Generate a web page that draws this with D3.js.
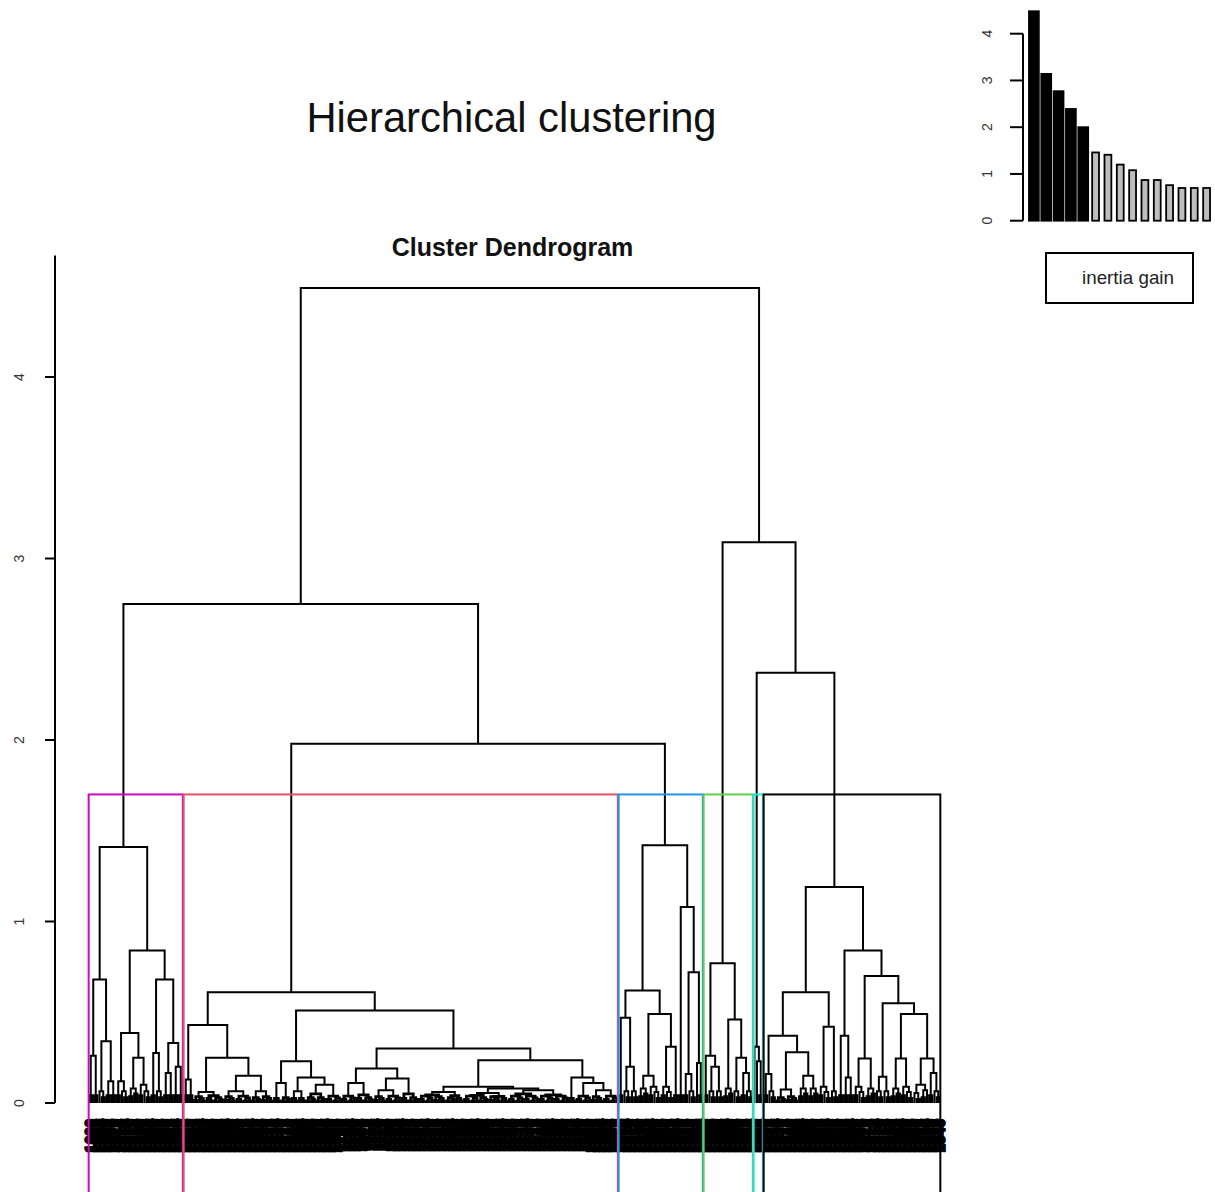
<!DOCTYPE html>
<html><head><meta charset="utf-8">
<script src="https://cdn.jsdelivr.net/npm/d3@7"></script>
<style>body{margin:0;background:#fff}svg{display:block}</style>
</head><body>
<svg id="c" width="1215" height="1192"></svg>
<script>
// ---------------- data ----------------
const inertiaGain = [4.48, 3.14, 2.77, 2.39, 2.00, 1.46, 1.41, 1.20, 1.08, 0.87, 0.87, 0.76, 0.70, 0.70, 0.70];
const inertiaTicks = [0, 1, 2, 3, 4];
const heightTicks = [0, 1, 2, 3, 4];
const cutHeight = 1.70;
const nbClusters = 6;
// upper merges: root, left branch, left-right branch, right branch, right-right branch
const upperMerges = [4.49, 2.75, 1.98, 3.09, 2.37];
// small leaf bundles (merge heights near zero)
const tallTips = {
  t2: [0.04, 1, 1],
  t3: [0.065, 1, [0.03, 1, 1]],
  t4: [0.08, [0.035, 1, 1], [0.05, 1, 1]],
  t5: [0.09, [0.04, 1, 1], [0.06, 1, [0.025, 1, 1]]],
  t6: [0.1, [0.055, 1, [0.02, 1, 1]], [0.07, [0.03, 1, 1], 1]]
};
const flatTips = {
  f2: [0.012, 1, 1],
  f3: [0.025, 1, [0.012, 1, 1]],
  f4: [0.03, [0.012, 1, 1], [0.02, 1, 1]],
  f5: [0.035, [0.015, 1, 1], [0.025, 1, [0.01, 1, 1]]],
  f6: [0.038, [0.02, 1, [0.008, 1, 1]], [0.028, [0.012, 1, 1], 1]]
};
// clusters, each [height, left, right]
const clusterPurple = [1.41,
  [0.68, [0.26, "t2", "t2"], [0.34, "t3", [0.12, "t2", "t2"]]],
  [0.84, [0.385, [0.12, "t2", "t3"], [0.25, "t4", [0.1, "t2", "t3"]]],
         [0.68, [0.275, "t2", "t3"], [0.33, [0.165, "t2", "t2"], [0.2, "t2", "t2"]]]]];
const clusterRed = [0.61,
  [0.43, [0.13, "t2", "t2"],
         [0.25, [0.06, "f5", [0.04, "f3", "f4"]], [0.15, [0.065, "f5", "f6"], [0.065, "f4", "f5"]]]],
  [0.51,
    [0.23, [0.11, "f3", "f4"], [0.14, [0.065, "f3", "f3"], [0.1, [0.05, "f4", "f4"], "f6"]]],
    [0.30,
      [0.19, [0.11, "f6", [0.045, "f3", "f4"]], [0.135, [0.07, "f5", "f6"], [0.05, "f3", "f4"]]],
      [0.235,
        [0.09, [0.06, [0.045, "f6", "f5"], [0.04, "f4", "f3"]],
               [0.08, [0.055, [0.042, "f6", "f4"], [0.037, "f5", "f3"]],
                      [0.07, [0.05, "f6", "f6"], [0.045, "f6", "f6"]]]],
        [0.14, "f3", [0.11, "f6", [0.07, "f5", "f6"]]]]]]];
const clusterBlue = [1.42,
  [0.62, [0.47, "t2", [0.2, "t3", "t3"]], [0.49, [0.15, "t4", "t5"], [0.31, "t5", "t2"]]],
  [1.08, "t2", [0.72, [0.16, "t2", "t3"], [0.22, 1, "t2"]]]];
const clusterGreen = [0.77, [0.26, "t2", [0.2, "t3", "t3"]], [0.46, "t4", [0.25, "t3", [0.165, "t2", "t3"]]]];
const clusterCyan = [0.31, 1, [0.23, 1, "t2"]];
const clusterBlack = [1.19,
  [0.61, [0.37, [0.16, "t2", "t3"], [0.28, [0.075, "f4", "f5"], [0.15, "t4", "t4"]]], [0.42, "t5", "t3"]],
  [0.84, [0.37, "t2", [0.14, "t2", "t2"]],
         [0.70, [0.245, "t5", "t4"],
                [0.55, [0.145, "t3", "t3"], [0.49, [0.245, "t4", "t5"], [0.245, "t6", [0.165, "t2", "t3"]]]]]]];
const clusterTrees = [clusterPurple, clusterRed, clusterBlue, clusterGreen, clusterCyan, clusterBlack];
const clusterColors = ["#CD0BBC", "#DF536B", "#2297E6", "#61D04F", "#28E2E5", "#000000"];

// ---------------- build ----------------
function toNode(spec, cl) {
  if (spec === 1) return {h: 0, cluster: cl};
  if (typeof spec === "string") return toNode(tallTips[spec] || flatTips[spec], cl);
  return {h: spec[0], cluster: cl, children: [toNode(spec[1], cl), toNode(spec[2], cl)]};
}
const upper = (h, a, b) => ({h, cluster: -1, children: [a, b]});
const C = clusterTrees.map((t, i) => toNode(t, i));
const rootData = upper(upperMerges[0],
  upper(upperMerges[1], C[0], upper(upperMerges[2], C[1], C[2])),
  upper(upperMerges[3], C[3], upper(upperMerges[4], C[4], C[5])));
const root = d3.hierarchy(rootData);
const leaves = root.leaves();
const n = leaves.length;

const svg = d3.select("#c");
const font = "'Liberation Sans', Arial, sans-serif";

const x = d3.scaleLinear().domain([1, n]).range([89.5, 939.5]);
const y = d3.scaleLinear().domain([0, 4]).range([1103, 377]);

leaves.forEach((d, i) => { d.idx = i + 1; d.px = x(i + 1); });
root.eachAfter(d => { if (d.children) d.px = (d.children[0].px + d.children[1].px) / 2; });

// titles
svg.append("text").attr("x", 511.5).attr("y", 132).attr("text-anchor", "middle")
  .attr("font-family", font).attr("font-size", 41.7).attr("fill", "#111").text("Hierarchical clustering");
svg.append("text").attr("x", 512.5).attr("y", 256).attr("text-anchor", "middle")
  .attr("font-family", font).attr("font-size", 25).attr("font-weight", "bold").attr("fill", "#111").text("Cluster Dendrogram");

// y axis
const ax = svg.append("g");
ax.append("line").attr("x1", 55).attr("x2", 55).attr("y1", y(4.67)).attr("y2", y(0)).attr("stroke", "#000").attr("stroke-width", 2);
ax.selectAll("line.tk").data(heightTicks).join("line").attr("class", "tk")
  .attr("x1", 45).attr("x2", 55).attr("y1", d => y(d)).attr("y2", d => y(d)).attr("stroke", "#000").attr("stroke-width", 2);
ax.selectAll("text").data(heightTicks).join("text")
  .attr("transform", d => `translate(19,${y(d)}) rotate(-90)`)
  .attr("text-anchor", "middle").attr("dy", "0.35em")
  .attr("font-family", font).attr("font-size", 14).attr("fill", "#333").text(d => d);

// dendrogram links
const internal = root.descendants().filter(d => d.children);
svg.append("g").selectAll("path").data(internal).join("path")
  .attr("d", d => {
    const [a, b] = d.children;
    return `M${a.px},${y(a.data.h)}V${y(d.data.h)}H${b.px}V${y(b.data.h)}`;
  })
  .attr("fill", "none").attr("stroke", "#000")
  .attr("stroke-width", d => d.data.h <= 0.05 ? 2.8 : 2);

// leaf labels
svg.append("g").selectAll("text").data(leaves).join("text")
  .attr("transform", d => `translate(${d.px},1119) rotate(-90)`)
  .attr("text-anchor", "end").attr("dy", "0.36em")
  .attr("font-family", font).attr("font-size", 15).attr("font-weight", "bold")
  .attr("fill", "#000").attr("stroke", "#000").attr("stroke-width", 1.6).attr("stroke-linejoin", "round")
  .text(d => String(999 + d.idx));

// cluster rectangles
const clusterRanges = d3.range(nbClusters).map(i => {
  const ls = leaves.filter(l => l.data.cluster === i);
  return {i, lo: d3.min(ls, l => l.idx), hi: d3.max(ls, l => l.idx)};
});
svg.append("g").selectAll("rect").data(clusterRanges).join("rect")
  .attr("x", d => x(d.lo - 0.34)).attr("width", d => x(d.hi + 0.33) - x(d.lo - 0.34))
  .attr("y", y(cutHeight)).attr("height", 1196 - y(cutHeight))
  .attr("fill", "none").attr("stroke", d => clusterColors[d.i]).attr("stroke-width", 2);

// inset: inertia gain
const x2 = d3.scaleBand().domain(d3.range(inertiaGain.length)).range([1026.5, 1214]).padding(0.2);
const y2 = d3.scaleLinear().domain([0, 4]).range([220.7, 33.7]);
const ins = svg.append("g");
ins.selectAll("rect").data(inertiaGain).join("rect")
  .attr("x", (d, i) => i < nbClusters - 1 ? x2(i) : x2(i) + 1.5)
  .attr("width", (d, i) => i < nbClusters - 1 ? x2.bandwidth() : x2.bandwidth() - 3)
  .attr("y", d => y2(d)).attr("height", d => y2(0) - y2(d))
  .attr("fill", (d, i) => i < nbClusters - 1 ? "#000" : "#BEBEBE")
  .attr("stroke", "#000").attr("stroke-width", 1.8);
ins.append("line").attr("x1", 1023).attr("x2", 1023).attr("y1", y2(4)).attr("y2", y2(0)).attr("stroke", "#000").attr("stroke-width", 2);
ins.selectAll("line.tk").data(inertiaTicks).join("line").attr("class", "tk")
  .attr("x1", 1010).attr("x2", 1023).attr("y1", d => y2(d)).attr("y2", d => y2(d)).attr("stroke", "#000").attr("stroke-width", 2);
ins.selectAll("text.tl").data(inertiaTicks).join("text").attr("class", "tl")
  .attr("transform", d => `translate(987,${y2(d)}) rotate(-90)`)
  .attr("text-anchor", "middle").attr("dy", "0.35em")
  .attr("font-family", font).attr("font-size", 14).attr("fill", "#333").text(d => d);
ins.append("rect").attr("x", 1046).attr("y", 253).attr("width", 147).attr("height", 50)
  .attr("fill", "none").attr("stroke", "#000").attr("stroke-width", 2);
ins.append("text").attr("x", 1082).attr("y", 284).attr("textLength", 92).attr("lengthAdjust", "spacingAndGlyphs")
  .attr("font-family", font).attr("font-size", 19).attr("fill", "#222").text("inertia gain");
</script>
</body></html>
